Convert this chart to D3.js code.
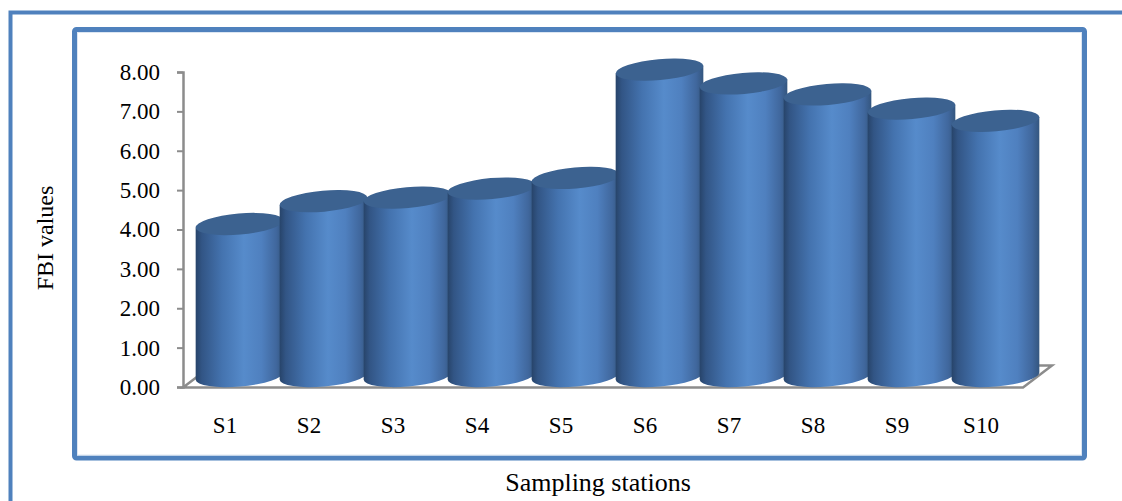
<!DOCTYPE html>
<html>
<head>
<meta charset="utf-8">
<script src="https://cdn.jsdelivr.net/npm/d3@7"></script>
<style>
  body { margin: 0; background: #fff; }
  text { font-family: "Liberation Serif", "Times New Roman", serif; fill: #000; }
</style>
</head>
<body>
<script>
const stations = ["S1", "S2", "S3", "S4", "S5", "S6", "S7", "S8", "S9", "S10"]
const fbiValues = [3.86, 4.44, 4.53, 4.76, 5.03, 7.78, 7.43, 7.15, 6.79, 6.48]
const yTicks = [0, 1, 2, 3, 4, 5, 6, 7, 8]

const W = 1122, H = 501
const svg = d3.select("body").append("svg")
  .attr("width", W)
  .attr("height", H)

// gradient for the cylinder sides
const defs = svg.append("defs")
const grad = defs.append("linearGradient")
  .attr("id", "side")
  .attr("x1", "0%").attr("x2", "100%").attr("y1", "0%").attr("y2", "0%")
const stops = [
  [0, "#27446a"], [0.07, "#325585"], [0.3, "#4473af"], [0.55, "#568bcb"],
  [0.75, "#4f80bf"], [0.92, "#40679d"], [1, "#34567f"]
]
stops.forEach(s => grad.append("stop").attr("offset", s[0]).attr("stop-color", s[1]))

// outer frame (left and top only)
svg.append("path")
  .attr("d", `M10.5,${H} L10.5,12.5 L${W},12.5`)
  .attr("fill", "none")
  .attr("stroke", "#4f81bd")
  .attr("stroke-width", 4)

// inner chart frame
svg.append("rect")
  .attr("x", 74.5).attr("y", 29.5)
  .attr("width", 1010).attr("height", 428.5)
  .attr("rx", 2)
  .attr("fill", "#fff")
  .attr("stroke", "#4f81bd")
  .attr("stroke-width", 5)
svg.append("rect")
  .attr("x", 77.5).attr("y", 32.5)
  .attr("width", 1004).attr("height", 422.5)
  .attr("fill", "none")
  .attr("stroke", "#dce6f2")
  .attr("stroke-width", 1)

const x = d3.scaleBand().domain(stations).range([183, 1023]).padding(0)
const y = d3.scaleLinear().domain([0, 8]).range([387, 72])

// depth offset of the 3D floor
const depthX = 29, depthY = -22
const y0 = y(0) + 0.5

// floor
svg.append("path")
  .attr("d", `M183,${y0} L1023,${y0} L${1023 + depthX},${y0 + depthY} L${183 + depthX},${y0 + depthY} Z`)
  .attr("fill", "#fff")
  .attr("stroke", "#8c8c8c")
  .attr("stroke-width", 2.5)
  .attr("stroke-linejoin", "miter")

// y axis
const yAxis = svg.append("g")
  .attr("transform", "translate(183,0)")
  .call(d3.axisLeft(y).tickValues(yTicks).tickSize(6).tickPadding(17).tickFormat(d3.format(".2f")))
yAxis.select(".domain").attr("stroke", "#8c8c8c").attr("stroke-width", 2.5)
yAxis.selectAll(".tick line").attr("stroke", "#8c8c8c").attr("stroke-width", 2)
yAxis.selectAll(".tick text")
  .attr("font-size", 23)
  .attr("font-family", "Liberation Serif, Times New Roman, serif")
  .attr("fill", "#000")

// cylinders
const rx = 44, ry = 10.5, tilt = -5
const rad = tilt * Math.PI / 180
const ex = rx * Math.cos(rad), ey = rx * Math.sin(rad)

const bars = svg.append("g")
stations.forEach((s, i) => {
  const cx = x(s) + x.bandwidth() / 2 + depthX / 2
  const yb = y(0) + depthY / 2
  const yt = y(fbiValues[i]) + depthY / 2
  const g = bars.append("g")
  g.append("path")
    .attr("d", `M${cx - ex},${yt - ey} L${cx - ex},${yb - ey}` +
      ` A${rx},${ry} ${tilt} 0 0 ${cx + ex},${yb + ey}` +
      ` L${cx + ex},${yt + ey} Z`)
    .attr("fill", "url(#side)")
  g.append("ellipse")
    .attr("cx", cx).attr("cy", yt)
    .attr("rx", rx).attr("ry", ry)
    .attr("transform", `rotate(${tilt},${cx},${yt})`)
    .attr("fill", "#3c6290")
})

// x labels
svg.append("g").selectAll("text")
  .data(stations)
  .enter()
  .append("text")
  .attr("x", d => x(d) + x.bandwidth() / 2)
  .attr("y", 433)
  .attr("text-anchor", "middle")
  .attr("font-size", 23)
  .text(d => d)

// axis titles
svg.append("text")
  .attr("transform", "translate(53,238) rotate(-90)")
  .attr("text-anchor", "middle")
  .attr("font-size", 24)
  .text("FBI values")

svg.append("text")
  .attr("x", 598)
  .attr("y", 491)
  .attr("text-anchor", "middle")
  .attr("font-size", 26)
  .text("Sampling stations")
</script>
</body>
</html>
